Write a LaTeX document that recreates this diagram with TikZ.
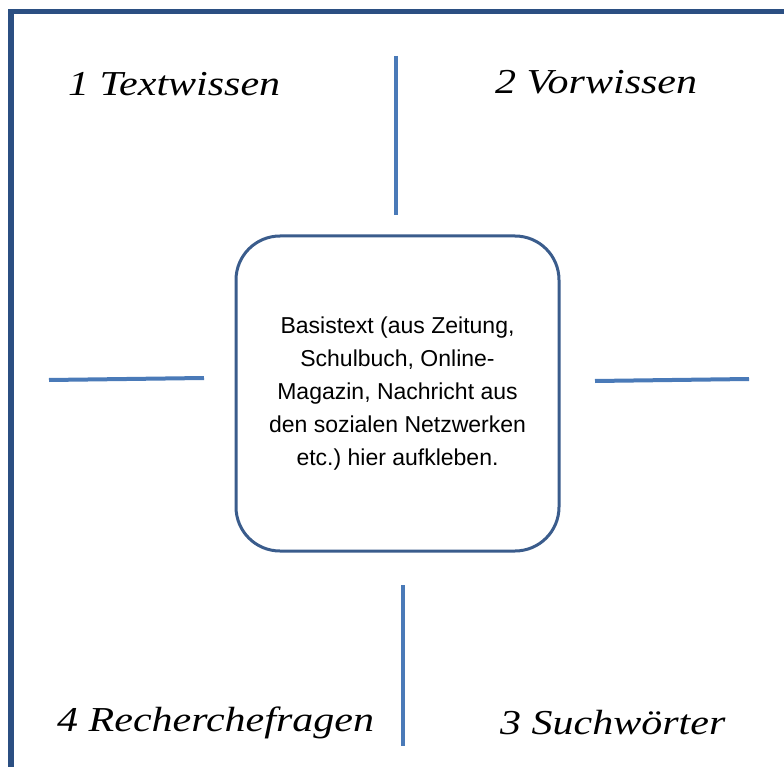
\documentclass[tikz,border=0pt]{standalone}
\usepackage{fontspec}
\setmainfont{Liberation Sans}
\newfontfamily\handfont{Liberation Serif}
\definecolor{framec}{HTML}{2B4F82}
\definecolor{linec}{HTML}{4A7AB8}
\definecolor{boxc}{HTML}{3A5C8C}
\newcommand{\handtitle}[1]{\scalebox{1.2}[1]{#1}}
\tikzset{
  sepline/.style={draw=linec, line width=4pt},
  titletext/.style={font=\handfont\itshape\fontsize{35}{40}\selectfont, inner sep=0pt, anchor=west},
  basebox/.style={draw=boxc, line width=3pt, rounded corners=44pt, minimum width=323pt, minimum height=315pt, align=center, font=\fontsize{23}{33}\selectfont}
}
\begin{document}
\begin{tikzpicture}[x=1pt,y=-1pt]
\useasboundingbox (0,0) rectangle (784,767);
\clip (0,0) rectangle (784,767);
\fill[white] (0,0) rectangle (784,767);
\draw[framec, line width=5.5pt] (11,800) -- (11,11.5) -- (800,11.5);
\node[basebox] (box) at (397.5,393.5) {Basistext (aus Zeitung,\\Schulbuch, Online-\\Magazin, Nachricht aus\\den sozialen Netzwerken\\etc.)\ hier aufkleben.};
\coordinate (t1) at (396,56); \coordinate (t2) at (396,215);
\coordinate (b1) at (403,585); \coordinate (b2) at (403,746);
\coordinate (l1) at (49,380); \coordinate (l2) at (204,378);
\coordinate (r1) at (595,381); \coordinate (r2) at (749,379);
\draw[sepline] (t1) -- (t2);
\draw[sepline] (b1) -- (b2);
\draw[sepline] (l1) -- (l2);
\draw[sepline] (r1) -- (r2);
\node[titletext] (q1) at (68,84) {\handtitle{1 Textwissen}};
\node[titletext] (q2) at (495,82) {\handtitle{2 Vorwissen}};
\node[titletext] (q4) at (57,723) {\handtitle{4 Recherchefragen}};
\node[titletext] (q3) at (500,723) {\handtitle{3 Suchwörter}};
\end{tikzpicture}
\end{document}
